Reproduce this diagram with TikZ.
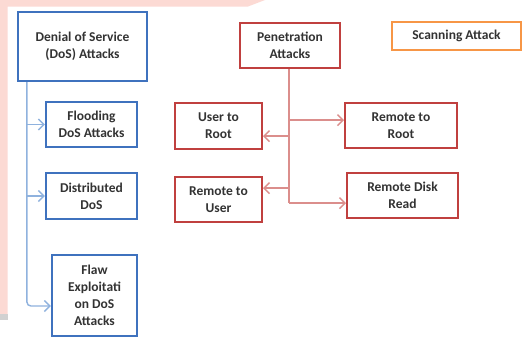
\documentclass[tikz,border=0pt]{standalone}
\usepackage{fontspec}
\setmainfont{Carlito}
\usetikzlibrary{arrows.meta,calc}
\definecolor{boxblue}{HTML}{3F72BE}
\definecolor{lineblue}{HTML}{8FB2DE}
\definecolor{boxred}{HTML}{C0403F}
\definecolor{linered}{HTML}{DB8E8C}
\definecolor{boxorange}{HTML}{F79646}
\definecolor{bgpink}{HTML}{FCDAD4}
\definecolor{txt}{HTML}{333333}
\tikzset{
  box/.style={draw, line width=2.2pt, fill=white, align=center, inner sep=1pt,
    font=\bfseries\fontsize{13.5}{17}\selectfont, text=txt},
  bbox/.style={box, draw=boxblue},
  rbox/.style={box, draw=boxred},
  obox/.style={box, draw=boxorange},
  bline/.style={draw=lineblue, line width=1.4pt},
  rline/.style={draw=linered, line width=1.4pt},
  tip/.style={-{Straight Barb[length=5.5pt,width=11pt]}}
}
\begin{document}
\begin{tikzpicture}[x=1pt,y=-1pt]
\useasboundingbox (0,0) rectangle (522,338);
\fill[white] (0,0) rectangle (522,338);
\fill[bgpink] (0,0) -- (265,0) -- (248,6.5) -- (7.5,6.5) -- (7.5,314) -- (0,314) -- cycle;
\fill[black!18] (0,314) rectangle (7.5,320);
% blue group
\node[bbox, minimum width=129pt, minimum height=69pt] (dos) at (82.5,46.5) {Denial of Service\\(DoS) Attacks};
\node[bbox, minimum width=91pt, minimum height=45pt] (flood) at (91.5,124.5) {Flooding\\DoS Attacks};
\node[bbox, minimum width=91pt, minimum height=46pt] (ddos) at (91.5,196) {Distributed\\DoS};
\node[bbox, minimum width=85pt, minimum height=81pt] (flaw) at (94.5,295.5) {Flaw\\Exploitati\\on DoS\\Attacks};
\coordinate (bt) at ($(dos.south west)+(10,0)$);
\draw[bline, tip, rounded corners=4pt] (bt) |- ($(flaw.west)+(0,10.5)$);
\draw[bline, tip] (bt |- flood.west) -- (flood.west);
\draw[bline, tip] (bt |- ddos.west) -- (ddos.west);
% red group
\node[rbox, minimum width=100pt, minimum height=45pt] (pen) at (290,45.5) {Penetration\\Attacks};
\node[rbox, minimum width=87pt, minimum height=46pt] (u2r) at (218.5,126) {User to\\Root};
\node[rbox, minimum width=112pt, minimum height=45pt] (r2r) at (401,125.5) {Remote to\\Root};
\node[rbox, minimum width=87pt, minimum height=45pt] (r2u) at (218.5,199.5) {Remote to\\User};
\node[rbox, minimum width=111pt, minimum height=45pt] (rdr) at (402.5,195.5) {Remote Disk\\Read};
\coordinate (rt) at ($(pen.south)+(-1,0)$);
\coordinate (ra) at ($(rt)+(0,51)$);
\coordinate (rb) at ($(rt)+(0,67)$);
\coordinate (rc) at ($(rt)+(0,119)$);
\coordinate (rd) at ($(rt)+(0,134)$);
\draw[rline] (rt) -- (rd);
\draw[rline, tip] (ra) -- (ra -| r2r.west);
\draw[rline, tip] (rb) -- (rb -| u2r.east);
\draw[rline, tip] (rc) -- (rc -| r2u.east);
\draw[rline, tip] (rd) -- (rd -| rdr.west);
% orange
\node[obox, minimum width=129pt, minimum height=28pt] (scan) at (456.5,36) {Scanning Attack};
\end{tikzpicture}
\end{document}
